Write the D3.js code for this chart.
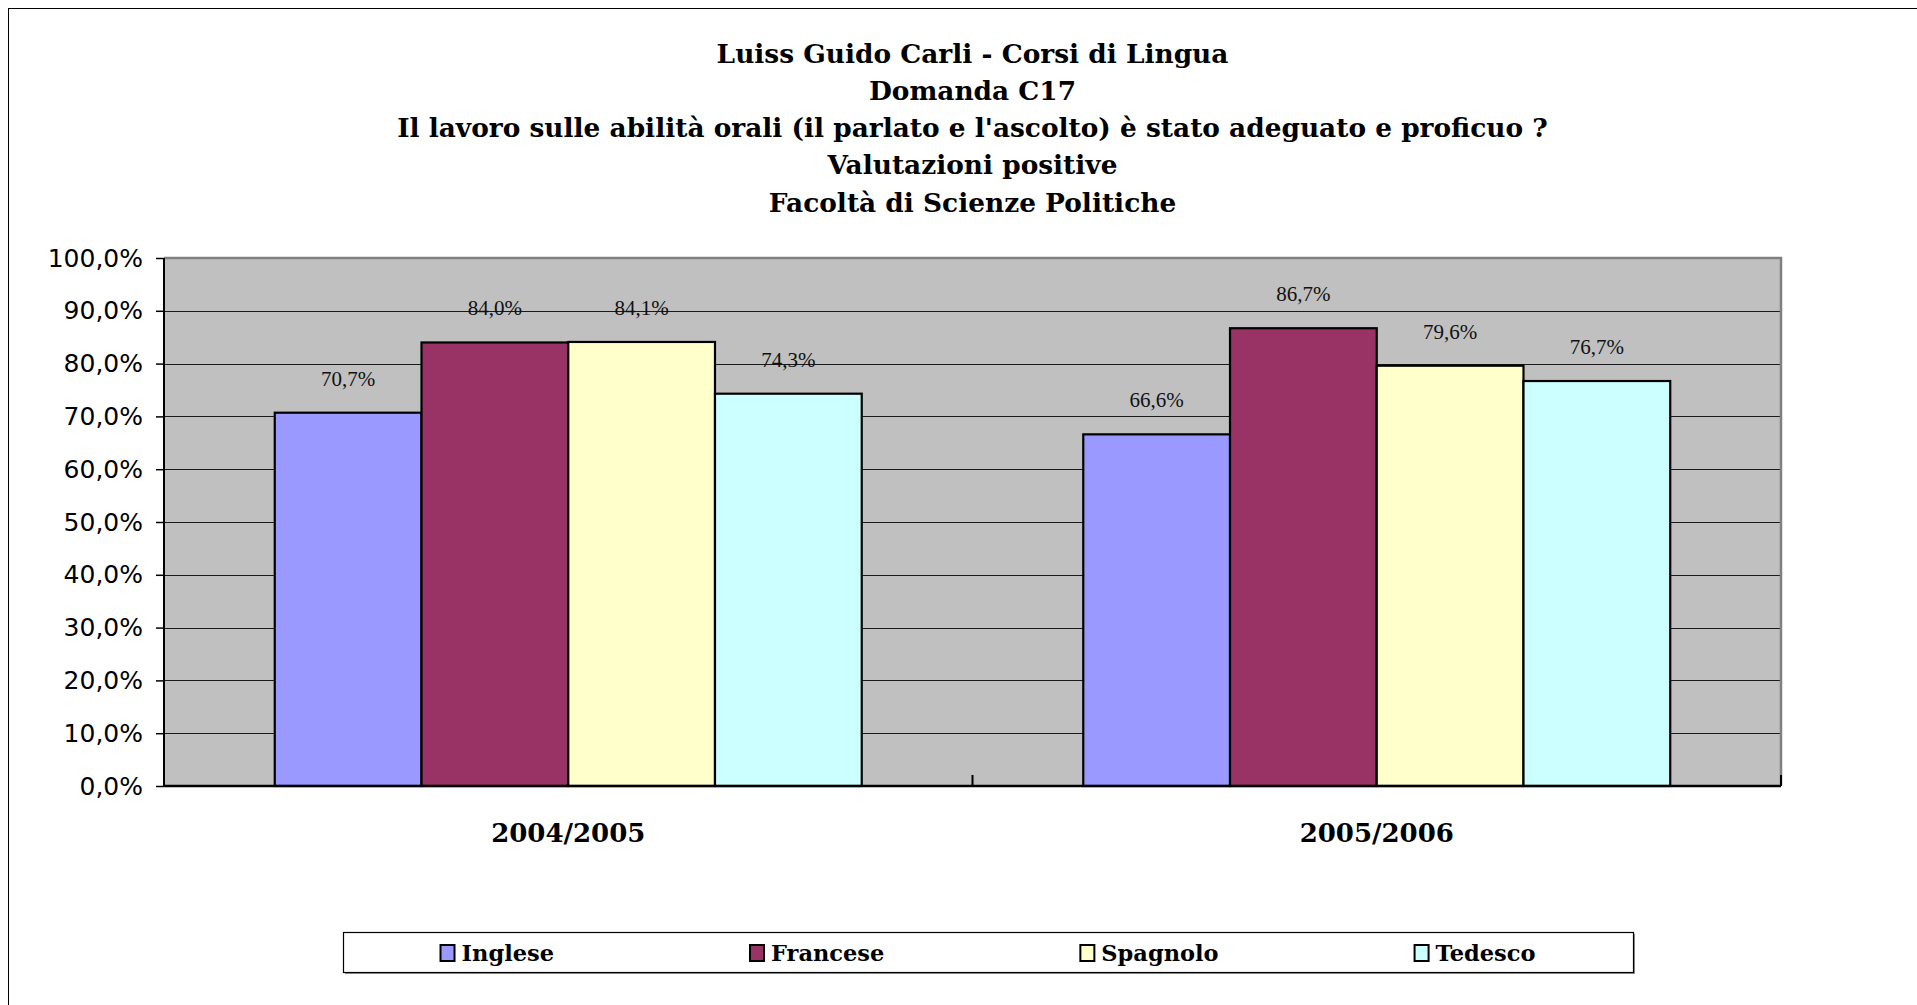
<!DOCTYPE html>
<html>
<head>
<meta charset="utf-8">
<style>
  body { margin: 0; background: #fff; }
  svg { display: block; }
</style>
</head>
<body>
<svg width="1917" height="1005"></svg>
<script src="https://d3js.org/d3.v7.min.js"></script>
<script>

    // data
    var titleLines = [
        "Luiss Guido Carli - Corsi di Lingua",
        "Domanda C17",
        "Il lavoro sulle abilità orali (il parlato e l'ascolto) è stato adeguato e proficuo ?",
        "Valutazioni positive",
        "Facoltà di Scienze Politiche"
    ];
    var years = ["2004/2005", "2005/2006"];
    var languages = ["Inglese", "Francese", "Spagnolo", "Tedesco"];
    var inglese  = [70.7, 66.6];
    var francese = [84.0, 86.7];
    var spagnolo = [84.1, 79.6];
    var tedesco  = [74.3, 76.7];
    var yTicks = [0, 10, 20, 30, 40, 50, 60, 70, 80, 90, 100];
    var colors = ["#9999FF", "#993366", "#FFFFCC", "#CCFFFF"];

    var series = [inglese, francese, spagnolo, tedesco];

    var svg = d3.select("svg"),
        margin = {top: 258, right: 136, bottom: 219, left: 164},
        width = +svg.attr("width") - margin.left - margin.right,
        height = +svg.attr("height") - margin.top - margin.bottom;

    var serif = "'DejaVu Serif', serif",
        sans = "'DejaVu Sans', sans-serif";

    var it = d3.formatLocale({decimal: ",", thousands: ".", grouping: [3], currency: ["", "€"]});
    var pct = it.format(".1f");

    // outer chart frame
    svg.append("rect")
        .attr("x", 8.5).attr("y", 8.5)
        .attr("width", 1930).attr("height", 1020)
        .attr("fill", "#fff")
        .attr("stroke", "#000")
        .attr("stroke-width", 1);

    // title
    svg.append("g")
        .selectAll("text")
        .data(titleLines)
        .enter().append("text")
        .attr("x", margin.left + width / 2)
        .attr("y", function(d, i) { return 62.5 + i * 37.3; })
        .attr("text-anchor", "middle")
        .attr("font-family", serif)
        .attr("font-weight", "bold")
        .attr("font-size", 26.4)
        .text(function(d) { return d; });

    var g = svg.append("g").attr("transform", "translate(" + margin.left + "," + margin.top + ")");

    var x0 = d3.scaleBand()
        .domain(years)
        .range([0, width]);

    var gap = x0.bandwidth() * 0.137;
    var x1 = d3.scaleBand()
        .domain(languages)
        .range([gap, x0.bandwidth() - gap]);

    var y = d3.scaleLinear()
        .domain([0, 100])
        .range([height, 0]);

    // plot background
    g.append("rect")
        .attr("width", width)
        .attr("height", height)
        .attr("fill", "#C0C0C0");

    // gridlines
    g.append("g")
        .selectAll("line")
        .data(yTicks.filter(function(d) { return d > 0 && d < 100; }))
        .enter().append("line")
        .attr("x1", 0).attr("x2", width)
        .attr("y1", function(d) { return Math.round(y(d)) + 0.5; })
        .attr("y2", function(d) { return Math.round(y(d)) + 0.5; })
        .attr("stroke", "#1a1a1a")
        .attr("stroke-width", 1.2);

    // top / right frame of plot area
    g.append("path")
        .attr("d", "M0," + y(100) + "H" + width + "V" + height)
        .attr("fill", "none")
        .attr("stroke", "#808080")
        .attr("stroke-width", 2.5);

    // bars
    var bars = [];
    years.forEach(function(yr, i) {
        languages.forEach(function(lang, j) {
            bars.push({year: yr, lang: lang, value: series[j][i], color: colors[j]});
        });
    });

    g.append("g")
        .selectAll("rect")
        .data(bars)
        .enter().append("rect")
        .attr("x", function(d) { return x0(d.year) + x1(d.lang); })
        .attr("y", function(d) { return y(d.value); })
        .attr("width", x1.bandwidth())
        .attr("height", function(d) { return height - y(d.value); })
        .attr("fill", function(d) { return d.color; })
        .attr("stroke", "#000")
        .attr("stroke-width", 2.2);

    // value labels
    g.append("g")
        .selectAll("text")
        .data(bars)
        .enter().append("text")
        .attr("x", function(d) { return x0(d.year) + x1(d.lang) + x1.bandwidth() / 2; })
        .attr("y", function(d) { return y(d.value) - 27; })
        .attr("text-anchor", "middle")
        .attr("font-family", "'Liberation Serif', serif")
        .attr("font-size", 21)
        .attr("fill", "#111")
        .text(function(d) { return pct(d.value) + "%"; });

    // y axis
    var yAxis = g.append("g")
        .call(d3.axisLeft(y)
            .tickValues(yTicks)
            .tickSize(8)
            .tickPadding(13)
            .tickFormat(function(d) { return pct(d) + "%"; }));
    yAxis.select(".domain").remove();
    yAxis.selectAll("line").attr("stroke", "#000").attr("stroke-width", 1.5);
    yAxis.selectAll("text")
        .attr("font-family", sans)
        .attr("font-size", 25)
        .attr("fill", "#000");

    g.append("line")
        .attr("x1", 0).attr("x2", 0)
        .attr("y1", y(100)).attr("y2", height)
        .attr("stroke", "#000")
        .attr("stroke-width", 2);

    // x axis
    g.append("line")
        .attr("x1", 0).attr("x2", width)
        .attr("y1", height).attr("y2", height)
        .attr("stroke", "#000")
        .attr("stroke-width", 2.5);

    var catTicks = years.map(function(d) { return x0(d); }).concat([width]);
    g.append("g")
        .selectAll("line")
        .data(catTicks)
        .enter().append("line")
        .attr("x1", function(d) { return d; })
        .attr("x2", function(d) { return d; })
        .attr("y1", height).attr("y2", height - 11)
        .attr("stroke", "#000")
        .attr("stroke-width", 2);

    g.append("g")
        .selectAll("text")
        .data(years)
        .enter().append("text")
        .attr("x", function(d) { return x0(d) + x0.bandwidth() / 2; })
        .attr("y", height + 56)
        .attr("text-anchor", "middle")
        .attr("font-family", serif)
        .attr("font-weight", "bold")
        .attr("font-size", 26)
        .text(function(d) { return d; });

    // legend
    var lg = {x: 343, y: 932, w: 1290, h: 40};
    svg.append("rect")
        .attr("x", lg.x + 2).attr("y", lg.y + 2)
        .attr("width", lg.w).attr("height", lg.h)
        .attr("fill", "#909090");
    svg.append("rect")
        .attr("x", lg.x + 0.5).attr("y", lg.y + 0.5)
        .attr("width", lg.w).attr("height", lg.h)
        .attr("fill", "#fff")
        .attr("stroke", "#000")
        .attr("stroke-width", 1.2);

    var legend = svg.append("g");
    var items = legend.selectAll("g")
        .data(languages)
        .enter().append("g");

    items.append("rect")
        .attr("width", 14).attr("height", 16)
        .attr("y", -16)
        .attr("fill", function(d, i) { return colors[i]; })
        .attr("stroke", "#000")
        .attr("stroke-width", 2);

    items.append("text")
        .attr("x", 21)
        .attr("font-family", serif)
        .attr("font-weight", "bold")
        .attr("font-size", 22.5)
        .text(function(d) { return d; });

    var pos = 0, offs = [];
    items.each(function() {
        offs.push(pos);
        pos += 21 + this.querySelector("text").getComputedTextLength() + 196;
    });
    var total = pos - 196;
    var start = lg.x + (lg.w - total) / 2;
    items.attr("transform", function(d, i) {
        return "translate(" + (start + offs[i]) + "," + (lg.y + 29) + ")";
    });

</script>
</body>
</html>
